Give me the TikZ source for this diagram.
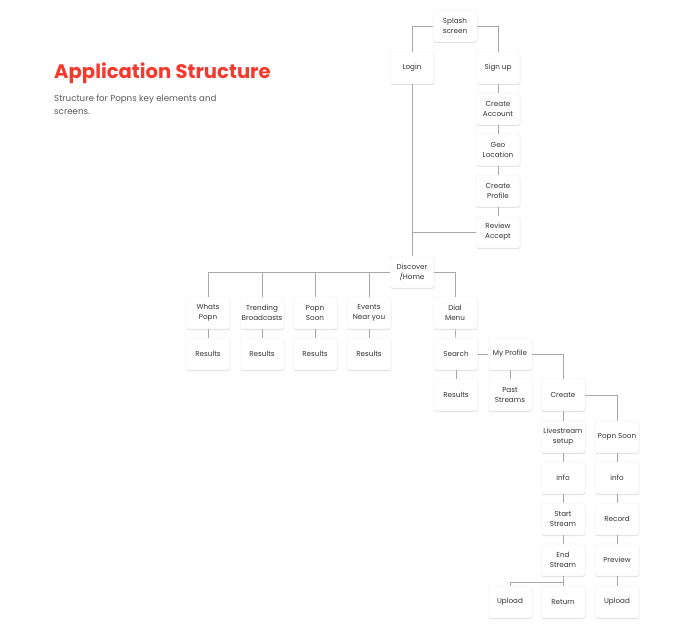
\documentclass[tikz,border=0pt]{standalone}
\usepackage{fontspec}
\setmainfont{Poppins}
\usetikzlibrary{shadows}
\definecolor{titlered}{HTML}{F4392D}
\definecolor{subgrey}{HTML}{5A5A5A}
\definecolor{linegrey}{HTML}{A8A8A8}
\tikzset{
  screen/.style={draw=black!7, fill=white, rounded corners=2.5pt,
    minimum width=44pt, minimum height=32pt, inner sep=1pt, align=center,
    font=\fontsize{7.2}{10}\selectfont, text=black!80,
    drop shadow={shadow xshift=0.3pt, shadow yshift=-1pt, fill=black, opacity=0.12}},
  link/.style={draw=linegrey, line width=0.6pt}
}
\begin{document}
\begin{tikzpicture}[x=1pt, y=-1pt]
  \useasboundingbox (0,0) rectangle (680,631);

  % Heading
  \node[anchor=west, inner sep=0pt, text=titlered, font=\fontsize{19.6}{22}\selectfont\bfseries] (title) at (54,73) {Application Structure};
  \node[anchor=north west, inner sep=0pt, align=left, text=subgrey, font=\fontsize{8.7}{12.5}\selectfont] (subtitle) at (54,95) {Structure for Popns key elements and\\screens.};

  % Entry
  \node[screen] (splash) at (455,26) {Splash\\screen};
  \node[screen] (login) at (412,68) {Login};
  \node[screen] (signup) at (498,68) {Sign up};
  \node[screen] (account) at (498,109) {Create\\Account};
  \node[screen] (geo) at (498,150) {Geo\\Location};
  \node[screen] (profile) at (498,191) {Create\\Profile};
  \node[screen] (review) at (498,232) {Review\\Accept};
  \node[screen] (discover) at (412,272) {Discover\\/Home};

  % Discover
  \node[screen] (whats) at (208,313) {Whats\\Popn};
  \node[screen] (trend) at (262,313) {Trending\\Broadcasts};
  \node[screen] (soon) at (315,313) {Popn\\Soon};
  \node[screen] (events) at (369,313) {Events\\Near you};
  \node[screen] (whatsres) at (208,354) {Results};
  \node[screen] (trendres) at (262,354) {Results};
  \node[screen] (soonres) at (315,354) {Results};
  \node[screen] (eventsres) at (369,354) {Results};

  % Dial menu
  \node[screen] (dial) at (455,313) {Dial\\Menu};
  \node[screen] (search) at (456,354) {Search};
  \node[screen] (myprofile) at (510,354) {My Profile};
  \node[screen] (searchres) at (456,395) {Results};
  \node[screen] (past) at (510,395) {Past\\Streams};
  \node[screen] (create) at (563,395) {Create};

  % Create
  \node[screen] (live) at (563,437) {Livestream\\setup};
  \node[screen] (liveinfo) at (563,478) {info};
  \node[screen] (start) at (563,519) {Start\\Stream};
  \node[screen] (endst) at (563,560) {End\\Stream};
  \node[screen] (upload) at (510,602) {Upload};
  \node[screen] (return) at (563,602) {Return};
  \node[screen] (popnsoon) at (617,437) {Popn Soon};
  \node[screen] (sooninfo) at (617,478) {info};
  \node[screen] (record) at (617,519) {Record};
  \node[screen] (preview) at (617,560) {Preview};
  \node[screen] (soonup) at (617,602) {Upload};
  \coordinate (split) at (563,582);

  % Entry links
  \draw[link] (splash.west) -| (login.north);
  \draw[link] (splash.east) -| (signup.north);
  \draw[link] (signup) -- (account);
  \draw[link] (account) -- (geo);
  \draw[link] (geo) -- (profile);
  \draw[link] (profile) -- (review);
  \draw[link] (review.west) -- (review.west -| login.south);
  \draw[link] (login) -- (discover);

  % Discover links
  \draw[link] (discover.west) -| (whats.north);
  \draw[link] (trend.north) -- (trend.north |- discover.west);
  \draw[link] (soon.north) -- (soon.north |- discover.west);
  \draw[link] (events.north) -- (events.north |- discover.west);
  \draw[link] (whats) -- (whatsres);
  \draw[link] (trend) -- (trendres);
  \draw[link] (soon) -- (soonres);
  \draw[link] (events) -- (eventsres);

  % Dial links
  \draw[link] (discover.east) -| (dial.north);
  \draw[link] (dial) -- (search);
  \draw[link] (search) -- (myprofile);
  \draw[link] (search) -- (searchres);
  \draw[link] (myprofile) -- (past);
  \draw[link] (myprofile.east) -| (create.north);

  % Create links
  \draw[link] (create) -- (live);
  \draw[link] (create.east) -| (popnsoon.north);
  \draw[link] (live) -- (liveinfo);
  \draw[link] (liveinfo) -- (start);
  \draw[link] (start) -- (endst);
  \draw[link] (endst) -- (return);
  \draw[link] (upload.north) |- (split);
  \draw[link] (popnsoon) -- (sooninfo);
  \draw[link] (sooninfo) -- (record);
  \draw[link] (record) -- (preview);
  \draw[link] (preview) -- (soonup);
\end{tikzpicture}
\end{document}
